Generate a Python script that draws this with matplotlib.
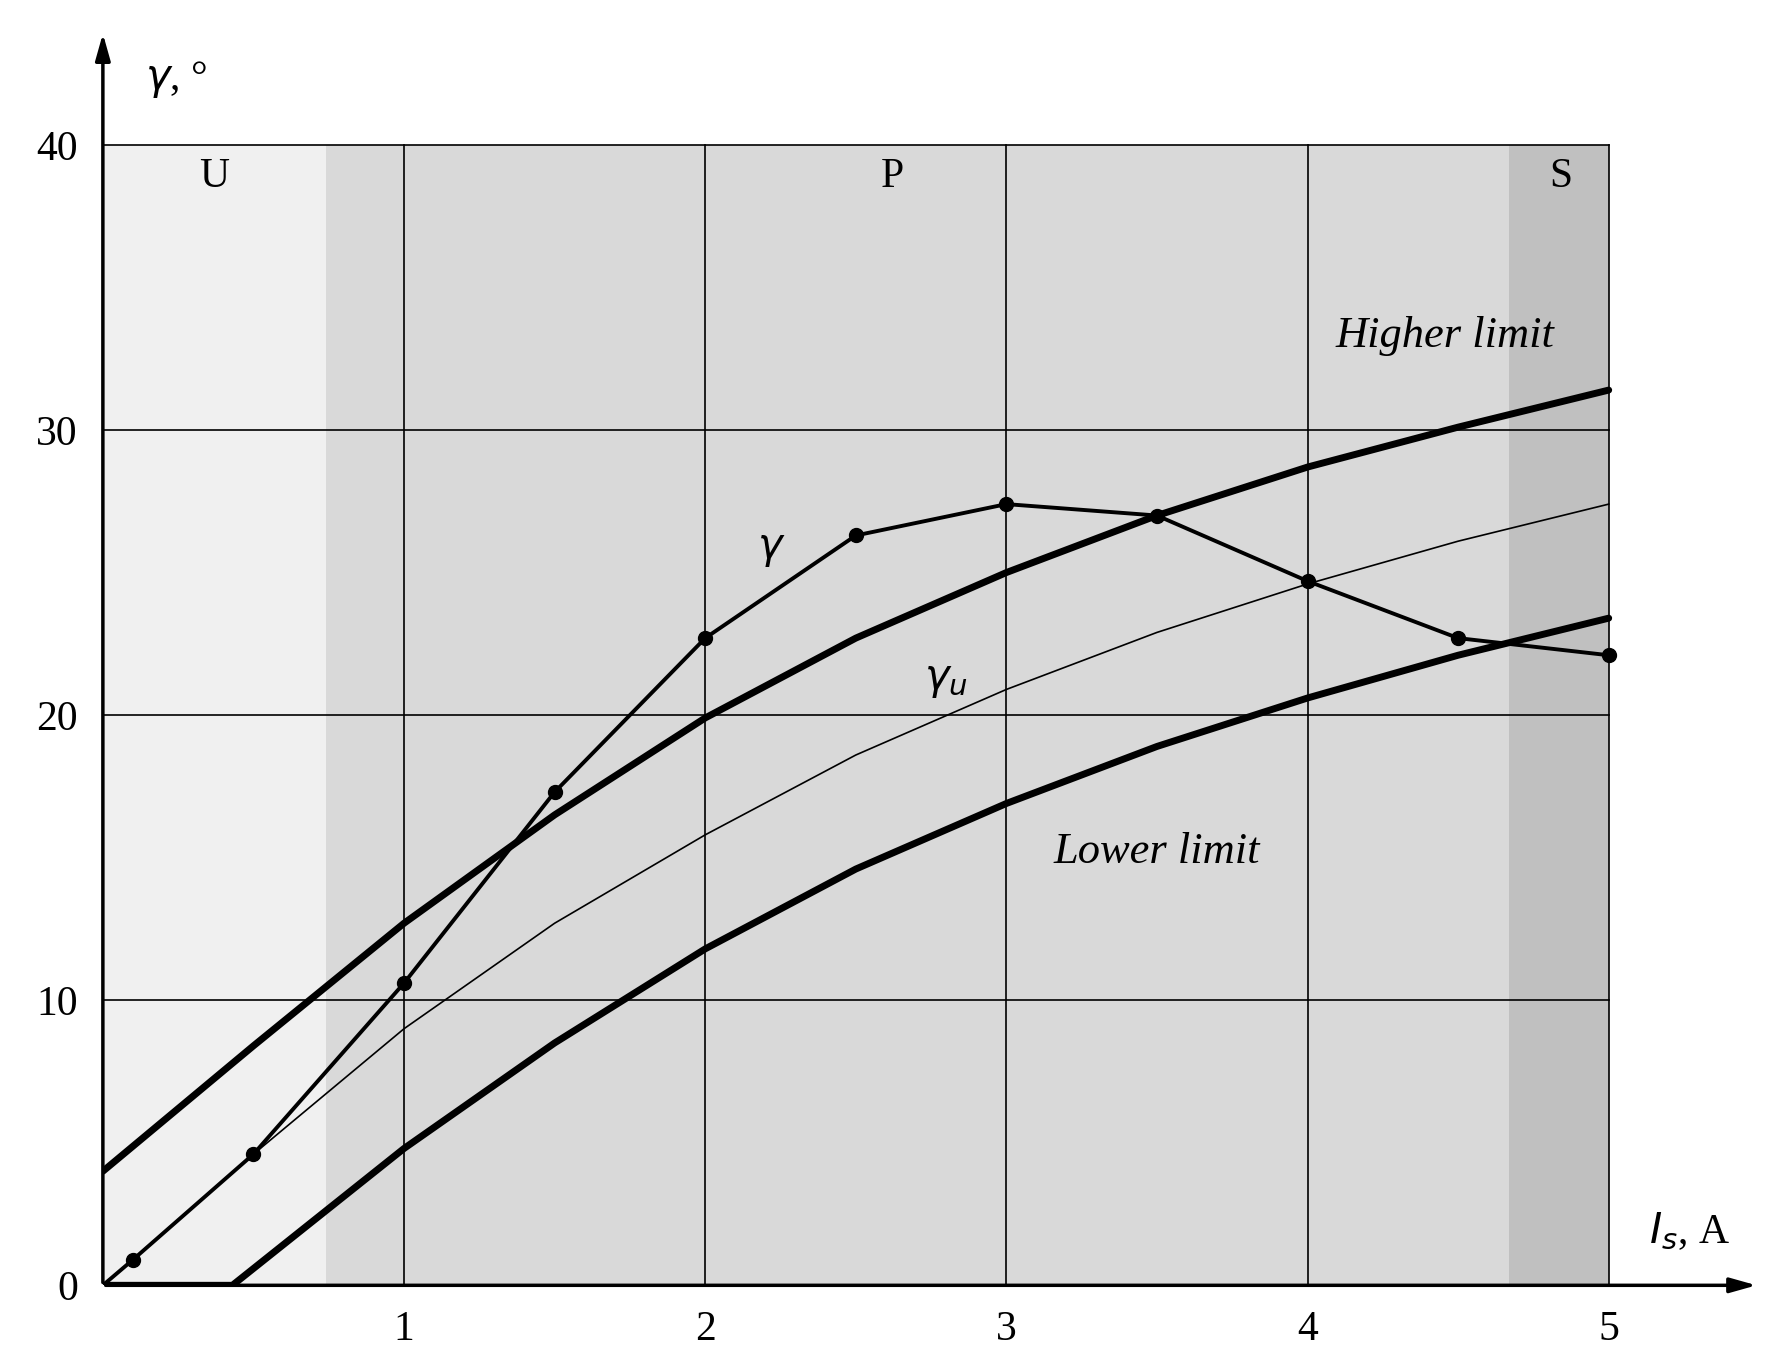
import numpy as np
import matplotlib.pyplot as plt

plt.rcParams['font.family'] = ['Liberation Serif', 'DejaVu Serif']

# measured gamma points
g_x = [0.0, 0.1, 0.5, 1.0, 1.5, 2.0, 2.5, 3.0, 3.5, 4.0, 4.5, 5.0]
g_y = [0.0, 0.9, 4.6, 10.6, 17.3, 22.7, 26.3, 27.4, 27.0, 24.7, 22.7, 22.1]

lim_x = [0.0, 0.5, 1.0, 1.5, 2.0, 2.5, 3.0, 3.5, 4.0, 4.5, 5.0]
high_y = [4.0, 8.4, 12.7, 16.5, 19.9, 22.7, 25.0, 27.0, 28.7, 30.1, 31.4]
gu_y = [0.0, 4.6, 9.0, 12.7, 15.8, 18.6, 20.9, 22.9, 24.6, 26.1, 27.4]
low_x = [0.0, 0.43, 1.0, 1.5, 2.0, 2.5, 3.0, 3.5, 4.0, 4.5, 5.0]
low_y = [0.0, 0.0, 4.8, 8.5, 11.8, 14.6, 16.9, 18.9, 20.6, 22.1, 23.4]

zones = [(0.0, 0.74, '#f0f0f0', 'U'), (0.74, 4.67, '#d9d9d9', 'P'), (4.67, 5.0, '#c0c0c0', 'S')]

fig = plt.figure(figsize=(17.83, 13.71), dpi=100)
ax = fig.add_axes([0.0577, 0.0625, 0.929, 0.915])
ax.set_xlim(0, 5.5)
ax.set_ylim(0, 44)
for a, b, c, lab in zones:
    ax.axvspan(a, b, ymin=0, ymax=40 / 44, color=c, lw=0, zorder=0)
lab_x = {'U': 0.37, 'P': 2.62, 'S': 4.84}
for a, b, c, lab in zones:
    ax.text(lab_x[lab], 38.9, lab, fontsize=30, ha='center', va='center')

for x in range(1, 6):
    ax.plot([x, x], [0, 40], color='k', lw=1.2, zorder=1)
for y in range(10, 41, 10):
    ax.plot([0, 5], [y, y], color='k', lw=1.2, zorder=1)

ax.plot(lim_x, high_y, color='k', lw=5, zorder=3, solid_capstyle='round')
ax.plot(low_x, low_y, color='k', lw=5, zorder=3, solid_capstyle='round')
ax.plot(lim_x, gu_y, color='k', lw=1.2, zorder=3)
ax.plot(g_x, g_y, color='k', lw=2.8, zorder=4)
ax.plot(g_x[1:], g_y[1:], 'o', color='k', ms=10, zorder=5)

ax.text(4.82, 33.3, 'Higher limit', fontsize=32, style='italic', ha='right', va='center')
ax.text(3.5, 15.2, 'Lower limit', fontsize=32, style='italic', ha='center', va='center')
ax.text(2.22, 25.8, r'$\gamma$', fontsize=30, ha='center', va='center')
ax.text(2.8, 21.2, r'$\gamma_u$', fontsize=30, ha='center', va='center')
ax.text(0.14, 42.3, r'$\gamma$, °', fontsize=30, ha='left', va='center')
ax.text(5.27, 1.9, r'$I_s$, A', fontsize=30, ha='center', va='center')

for s in ax.spines.values():
    s.set_visible(False)
ax.annotate('', xy=(5.5, 0), xytext=(0, 0),
            arrowprops=dict(arrowstyle='-|>,head_length=1.6,head_width=0.45', color='k', lw=2.5))
ax.annotate('', xy=(0, 44), xytext=(0, 0),
            arrowprops=dict(arrowstyle='-|>,head_length=1.6,head_width=0.45', color='k', lw=2.5))
ax.set_xticks([1, 2, 3, 4, 5])
ax.set_yticks([0, 10, 20, 30, 40])
ax.tick_params(labelsize=30, length=0, pad=18)
fig.savefig('out.png', dpi=100)
